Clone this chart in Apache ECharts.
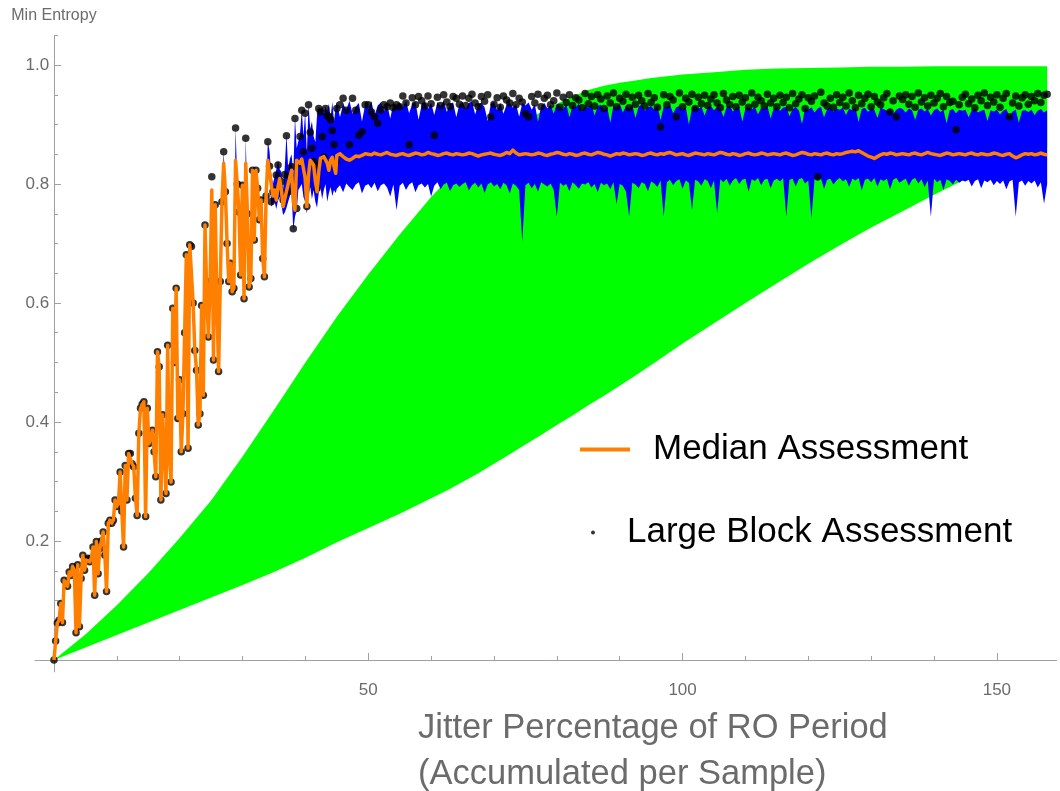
<!DOCTYPE html>
<html>
<head>
<meta charset="utf-8">
<script src="https://cdn.jsdelivr.net/npm/echarts@6/dist/echarts.min.js"></script>
<style>
  html, body { margin: 0; padding: 0; background: #ffffff; }
  #chart { width: 1060px; height: 791px; }
</style>
</head>
<body>
<div id="chart"></div>
<script>
// Sampling grid of the assessments: fine steps up to 45 %, coarser steps after.
const EARLY_STEP = 0.27;
const LATE_START = 45;
const LATE_STEP = 0.5;

// Median assessment, early samples (x = 0 … 44.82)
const medianEarly = [
  0, .032, .062, .067, .095, .063, .134, .131, .124, .148,
  .142, .157, .151, .046, .16, .056, .137, .176, .151, .168,
  .171, .165, .171, .19, .109, .199, .145, .187, .2, .215,
  .176, .115, .23, .235, .23, .235, .269, .258, .263, .316,
  .25, .19, .327, .269, .347, .347, .33, .325, .272, .243,
  .381, .423, .43, .434, .241, .423, .364, .372, .386, .35,
  .308, .518, .493, .269, .412, .35, .28, .529, .339, .299,
  .591, .50, .625, .406, .471, .35, .414, .55, .681, .356,
  .698, .695, .60, .52, .487, .395, .414, .596, .445, .731,
  .62, .543, .636, .79, .504, .765, .6, .485, .636, .77,
  .835, .787, .70, .636, .667, .619, .625, .84, .80, .753,
  .647, .798, .607, .835, .75, .627, .641, .823, .706, .823,
  .793, .74, .773, .675, .644, .78, .84,
  .838, .800, .780, .790, .773, .795, .809, .790, .762, .775,
  .773, .800, .812, .823, .770, .756, .840, .838, .835, .842,
  .845, .810, .762, .815, .840, .836, .832, .805, .787, .820,
  .843, .845, .846, .848, .835, .823, .840, .845, .830, .818
];

// Large block assessment, early samples
const largeBlockEarly = [
  0, .032, .062, .067, .095, .063, .134, .131, .124, .148,
  .142, .157, .151, .046, .16, .056, .137, .176, .151, .168,
  .171, .165, .171, .19, .109, .199, .145, .187, .2, .215,
  .176, .115, .23, .235, .23, .235, .269, .258, .263, .316,
  .25, .19, .327, .269, .347, .347, .33, .325, .272, .243,
  .381, .423, .43, .434, .241, .423, .364, .372, .386, .35,
  .308, .518, .493, .269, .412, .35, .28, .529, .339, .299,
  .591, .50, .625, .406, .471, .35, .414, .55, .681, .356,
  .698, .695, .60, .52, .487, .395, .414, .596, .445, .731,
  .62, .543, .636, .812, .504, .765, .6, .485, .636, .77,
  .854, .787, .70, .636, .667, .619, .625, .894, .80, .753,
  .647, .798, .607, .877, .75, .627, .641, .823, .706, .823,
  .793, .74, .773, .675, .644, .78, .871,
  .830, .770, .787, .790, .815, .832, .790, .804, .773, .816,
  .881, .787, .812, .829, .725, .910, .759, .835, .880, .924,
  .854, .919, .762, .933, .887, .860, .838, .832, .793, .927,
  .921, .880, .845, .927, .915, .913, .908, .890, .866, .838
];

// Median assessment, late samples (x = 45 … 158)
const medianLate = [
  .848, .851, .846, .842, .840, .843, .847, .846, .848, .851, .850, .849, .852, .850, .849, .851, .853, .850, .849, .848,
  .850, .851, .849, .848, .850, .852, .851, .849, .850, .853, .851, .850, .848, .849, .851, .852, .850, .849, .851, .850,
  .849, .850, .852, .851, .849, .847, .849, .850, .851, .852, .850, .849, .848, .850, .853, .851, .857, .852, .849, .850,
  .851, .850, .849, .850, .852, .851, .849, .848, .850, .851, .853, .852, .850, .849, .851, .850, .848, .849, .851, .852,
  .850, .849, .851, .853, .852, .850, .849, .847, .849, .851, .850, .852, .851, .849, .850, .851, .850, .848, .849, .851,
  .852, .850, .849, .851, .850, .852, .853, .851, .849, .850, .851, .849, .848, .850, .852, .851, .850, .849, .851, .850,
  .849, .851, .853, .852, .850, .849, .851, .850, .848, .849, .851, .852, .850, .849, .850, .852, .851, .849, .850, .851,
  .850, .849, .851, .852, .850, .848, .849, .851, .853, .852, .850, .849, .851, .850, .849, .851, .852, .850, .849, .851,
  .850, .851, .853, .854, .855, .854, .856, .853, .850, .847, .845, .843, .846, .849, .851, .850, .852, .851, .849, .850,
  .851, .850, .849, .851, .852, .850, .849, .851, .853, .851, .850, .849, .848, .850, .852, .851, .849, .850, .851, .850,
  .849, .851, .852, .850, .849, .851, .850, .849, .850, .852, .851, .849, .848, .850, .851, .847, .844, .846, .849, .851,
  .850, .851, .849, .850, .852, .850, .849
];

// Large block assessment, late samples
const largeBlockLate = [
  .927, .933, .944, .924, .866, .944, .924, .882, .888, .933, .933, .921, .913, .902, .925, .933, .930, .936, .928, .933,
  .930, .948, .936, .866, .945, .933, .947, .940, .931, .948, .935, .882, .946, .932, .950, .938, .930, .947, .944, .934,
  .948, .932, .944, .951, .936, .930, .947, .939, .950, .913, .934, .945, .929, .948, .941, .936, .952, .933, .944, .938,
  .918, .913, .947, .936, .951, .930, .944, .949, .933, .940, .953, .929, .946, .937, .950, .932, .945, .941, .928, .952,
  .935, .947, .931, .950, .943, .927, .948, .936, .953, .930, .944, .939, .951, .928, .946, .934, .949, .940, .931, .952,
  .937, .945, .929, .896, .950, .933, .947, .941, .913, .953, .930, .944, .938, .951, .927, .946, .935, .949, .932, .943,
  .950, .936, .928, .952, .941, .933, .947, .930, .949, .938, .945, .929, .953, .934, .946, .940, .931, .951, .936, .944,
  .930, .949, .937, .946, .928, .952, .935, .943, .950, .927, .945, .939, .948, .812, .954, .936, .931, .944, .929, .950,
  .937, .946, .931, .953, .940, .928, .949, .935, .944, .951, .930, .947, .938, .933, .945, .952, .921, .940, .913, .948,
  .942, .950, .934, .947, .929, .953, .938, .945, .931, .949, .936, .944, .952, .930, .947, .937, .939, .891, .933, .946,
  .951, .935, .943, .928, .949, .940, .953, .932, .946, .938, .950, .929, .944, .952, .913, .936, .948, .931, .945, .950,
  .934, .947, .940, .952, .937, .949, .951
];

// Spread of the assessments (low / high), starting at early sample 98
const BAND_EARLY_FROM = 98;
const bandLowEarly = [
  .483, .768, .833, .785, .698, .634, .665, .617, .623, .838, .798, .751,
  .645, .796, .605, .833, .748, .625, .639, .821, .704, .821,
  .791, .738, .771, .673, .642, .778, .838,
  .815, .762, .766, .770, .758, .772, .778, .765, .748, .752,
  .760, .770, .780, .790, .722, .745, .755, .790, .795, .800,
  .778, .770, .750, .780, .795, .775, .790, .770, .760, .785,
  .795, .775, .790, .800, .770, .785, .795, .780, .790, .785
];
const bandHighEarly = [
  .487, .772, .856, .789, .702, .638, .669, .621, .627, .896, .802, .755,
  .649, .800, .609, .879, .752, .629, .643, .825, .708, .825,
  .795, .742, .775, .677, .646, .782, .873,
  .855, .818, .800, .812, .824, .840, .825, .820, .790, .828,
  .885, .825, .842, .850, .815, .912, .860, .872, .885, .926,
  .880, .921, .850, .935, .893, .905, .880, .870, .915, .930,
  .925, .930, .918, .930, .922, .935, .912, .938, .905, .930
];
const bandLowLate = [
  .792, .798, .786, .801, .795, .790, .799, .803, .784, .797, .800, .793, .802, .788, .798, .801, .794, .779, .799, .756,
  .797, .802, .790, .799, .803, .786, .798, .801, .794, .800, .779, .797, .803, .791, .799, .802, .788, .798, .801, .795,
  .800, .803, .789, .798, .802, .794, .801, .785, .799, .803, .796, .800, .791, .802, .798, .784, .801, .797, .790, .703,
  .798, .802, .793, .800, .787, .803, .799, .796, .801, .790, .745, .802, .797, .800, .788, .803, .798, .792, .801, .799,
  .803, .794, .800, .786, .802, .798, .801, .791, .803, .766, .800, .797, .787, .745, .802, .799, .793, .803, .800, .788,
  .804, .801, .795, .806, .745, .803, .807, .798, .805, .808, .792, .806, .802, .756, .807, .804, .797, .808, .805, .793,
  .806, .751, .808, .803, .809, .797, .806, .810, .800, .807, .809, .787, .808, .805, .810, .798, .807, .809, .793, .806,
  .809, .804, .810, .745, .807, .809, .796, .808, .810, .801, .806, .742, .809, .805, .810, .792, .807, .809, .799, .806,
  .810, .804, .808, .795, .809, .806, .810, .789, .807, .809, .803, .810, .796, .808, .805, .809, .791, .807, .810, .802,
  .806, .809, .797, .807, .810, .801, .808, .795, .806, .745, .809, .803, .807, .790, .808, .805, .799, .807, .802, .806,
  .804, .807, .796, .805, .808, .793, .806, .803, .807, .798, .805, .800, .806, .791, .804, .807, .745, .803, .806, .797,
  .805, .801, .806, .794, .803, .767, .800
];
const bandHighLate = [
  .938, .912, .935, .925, .940, .918, .930, .936, .905, .933, .927, .939, .915, .932, .937, .922, .934, .910, .936, .931,
  .937, .929, .940, .919, .935, .938, .908, .933, .939, .926, .936, .916, .938, .931, .940, .921, .935, .937, .912, .934,
  .938, .926, .936, .939, .917, .934, .937, .929, .906, .935, .938, .924, .936, .918, .933, .937, .928, .935, .913, .936,
  .932, .937, .925, .934, .904, .931, .936, .927, .933, .918, .935, .930, .926, .934, .912, .932, .929, .935, .921, .931,
  .928, .934, .915, .931, .933, .924, .930, .903, .932, .929, .935, .920, .931, .926, .933, .911, .930, .934, .923, .929,
  .931, .925, .932, .907, .930, .928, .933, .919, .929, .931, .924, .930, .900, .927, .932, .926, .930, .915, .929, .931,
  .924, .930, .927, .913, .929, .931, .922, .928, .930, .905, .927, .929, .925, .930, .917, .928, .926, .931, .910, .927,
  .929, .923, .928, .930, .914, .926, .929, .924, .901, .928, .925, .929, .920, .927, .930, .912, .926, .928, .922, .927,
  .925, .928, .916, .927, .924, .929, .904, .926, .928, .921, .927, .925, .911, .928, .926, .923, .927, .918, .925, .928,
  .926, .920, .927, .924, .908, .925, .927, .922, .926, .915, .924, .927, .921, .925, .902, .924, .926, .919, .925, .923,
  .925, .912, .924, .926, .920, .923, .925, .906, .924, .922, .925, .917, .923, .926, .914, .922, .925, .903, .923, .924,
  .921, .925, .916, .923, .926, .920, .924
];

// Theoretical envelope (lower / upper bound)
const envX = [0, 5, 10, 15, 20, 25, 30, 35, 40, 45, 50, 55, 60, 62.5, 65, 67.5, 70, 72.5, 75, 77.5,
  80, 82.5, 85, 87.5, 90, 92.5, 95, 100, 105, 110, 115, 120, 125, 130, 135, 140, 145, 150, 155, 158];
const envLower = [0, .021, .042, .063, .084, .105, .126, .148, .172, .198, .222, .246, .272, .285, .299, .314,
  .330, .346, .362, .378, .395, .411, .428, .444, .461, .478, .496, .532, .566, .600, .633, .666, .697, .727,
  .754, .782, .808, .832, .852, .862];
const envUpper = [0, .043, .092, .146, .205, .268, .342, .42, .50, .577, .648, .715, .778, .806, .832, .854,
  .873, .890, .906, .921, .935, .947, .958, .965, .970, .974, .978, .984, .988, .992, .994, .995, .996, .997,
  .997, .998, .998, .998, .998, .998];

// Axis ticks
const xMajorTicks = [50, 100, 150];
const xMinorTicks = [10, 20, 30, 40, 60, 70, 80, 90, 110, 120, 130, 140];
const yMajorTicks = [0.2, 0.4, 0.6, 0.8, 1.0];
const yMinorTicks = [0.05, 0.1, 0.15, 0.25, 0.3, 0.35, 0.45, 0.5, 0.55, 0.65, 0.7, 0.75, 0.85, 0.9, 0.95, 1.05];

// ---- assemble series data ----
const xEarly = medianEarly.map((_, i) => +(i * EARLY_STEP).toFixed(2));
const xLate = medianLate.map((_, j) => LATE_START + j * LATE_STEP);
const xAll = xEarly.concat(xLate);
const median = medianEarly.concat(medianLate);
const largeBlock = largeBlockEarly.concat(largeBlockLate);
const bandX = xEarly.slice(BAND_EARLY_FROM).concat(xLate);
const bandLow = bandLowEarly.concat(bandLowLate);
const bandHigh = bandHighEarly.concat(bandHighLate);

const medianData = xAll.map((x, i) => [x, median[i]]);
const largeBlockData = xAll.map((x, i) => [x, largeBlock[i]]);
const bandData = bandX.map((x, i) => [x, bandLow[i], bandHigh[i]]);
const envData = envX.map((x, i) => [x, envLower[i], envUpper[i]]);

// Filled region between a low and a high curve, drawn as one polygon
function rangeArea(fill) {
  return function (params, api) {
    if (params.dataIndexInside !== 0) return null;
    const n = params.dataInsideLength;
    const top = [], bottom = [];
    for (let i = 0; i < n; i++) {
      const x = api.value(0, i);
      top.push(api.coord([x, api.value(2, i)]));
      bottom.push(api.coord([x, api.value(1, i)]));
    }
    return {
      type: 'polygon',
      shape: { points: top.concat(bottom.reverse()) },
      style: { fill: fill, stroke: null }
    };
  };
}

const AXIS_COLOR = '#a0a0a0';
const LABEL_COLOR = '#6b6b6b';
const FONT = 'Liberation Sans, Arial, Helvetica, sans-serif';

const chart = echarts.init(document.getElementById('chart'), null, { renderer: 'canvas' });

const xCommon = {
  type: 'value', min: -3, max: 159.5, position: 'bottom',
  splitLine: { show: false },
  axisLine: { onZero: true, onZeroAxisIndex: 0, lineStyle: { color: AXIS_COLOR, width: 1 } }
};
const yCommon = {
  type: 'value', min: -0.02, max: 1.05, position: 'left',
  splitLine: { show: false },
  axisLine: { onZero: true, onZeroAxisIndex: 0, lineStyle: { color: AXIS_COLOR, width: 1 } }
};

chart.setOption({
  animation: false,
  backgroundColor: '#ffffff',
  textStyle: { fontFamily: FONT },
  grid: { left: 35.1, right: 3.4, top: 35.25, bottom: 119.1, outerBoundsMode: 'none', containLabel: false },
  title: {
    text: 'Jitter Percentage of RO Period\n(Accumulated per Sample)',
    left: 418, top: 705, padding: 0,
    textStyle: { fontSize: 34.5, fontWeight: 'normal', color: LABEL_COLOR, lineHeight: 46, fontFamily: FONT }
  },
  legend: [
    {
      data: ['Median Assessment'], left: 580, top: 432, padding: 0, orient: 'vertical',
      selectedMode: false, icon: 'rect', itemWidth: 50, itemHeight: 4,
      itemStyle: { color: '#ff8000' },
      textStyle: { fontSize: 35, color: '#000000', fontFamily: FONT, padding: [0, 0, 0, 18] }
    },
    {
      data: ['Large Block Assessment'], left: 591, top: 515, padding: 0, orient: 'vertical',
      selectedMode: false, icon: 'circle', itemWidth: 4, itemHeight: 4,
      itemStyle: { color: '#000000' },
      textStyle: { fontSize: 35, color: '#000000', fontFamily: FONT, padding: [0, 0, 0, 27] }
    }
  ],
  xAxis: [
    Object.assign({}, xCommon, {
      axisTick: { show: true, inside: true, length: 7, customValues: xMajorTicks, lineStyle: { color: AXIS_COLOR } },
      axisLabel: { show: true, customValues: xMajorTicks, margin: 10, fontSize: 17, color: LABEL_COLOR, fontFamily: FONT }
    }),
    Object.assign({}, xCommon, {
      axisLine: { show: false, onZero: true, onZeroAxisIndex: 0 },
      axisTick: { show: true, inside: true, length: 4, customValues: xMinorTicks, lineStyle: { color: AXIS_COLOR } },
      axisLabel: { show: false }
    })
  ],
  yAxis: [
    Object.assign({}, yCommon, {
      name: 'Min Entropy', nameLocation: 'end', nameGap: 12,
      nameTextStyle: { fontSize: 16, color: LABEL_COLOR, fontFamily: FONT },
      axisTick: { show: true, inside: true, length: 7, customValues: yMajorTicks, lineStyle: { color: AXIS_COLOR } },
      axisLabel: { show: true, customValues: yMajorTicks, margin: -14, fontSize: 17, color: LABEL_COLOR, fontFamily: FONT,
        formatter: v => v.toFixed(1) }
    }),
    Object.assign({}, yCommon, {
      axisLine: { show: false, onZero: true, onZeroAxisIndex: 0 },
      axisTick: { show: true, inside: true, length: 4, customValues: yMinorTicks, lineStyle: { color: AXIS_COLOR } },
      axisLabel: { show: false }
    })
  ],
  series: [
    {
      name: 'Envelope', type: 'custom', silent: true,
      xAxisIndex: 0, yAxisIndex: 0,
      encode: { x: 0, y: [1, 2] },
      renderItem: rangeArea('#00ff00'),
      data: envData
    },
    {
      name: 'Spread', type: 'custom', silent: true,
      xAxisIndex: 0, yAxisIndex: 0,
      encode: { x: 0, y: [1, 2] },
      renderItem: rangeArea('#0000ff'),
      data: bandData
    },
    {
      name: 'Median Assessment', type: 'line',
      xAxisIndex: 0, yAxisIndex: 0,
      symbol: 'none', showSymbol: false,
      lineStyle: { color: '#ff8000', width: 3.5, join: 'round' },
      itemStyle: { color: '#ff8000' },
      data: medianData
    },
    {
      name: 'Large Block Assessment', type: 'scatter',
      xAxisIndex: 0, yAxisIndex: 0,
      symbol: 'circle', symbolSize: 7.5,
      itemStyle: { color: '#000000' },
      data: largeBlockData
    }
  ]
});
</script>
</body>
</html>
